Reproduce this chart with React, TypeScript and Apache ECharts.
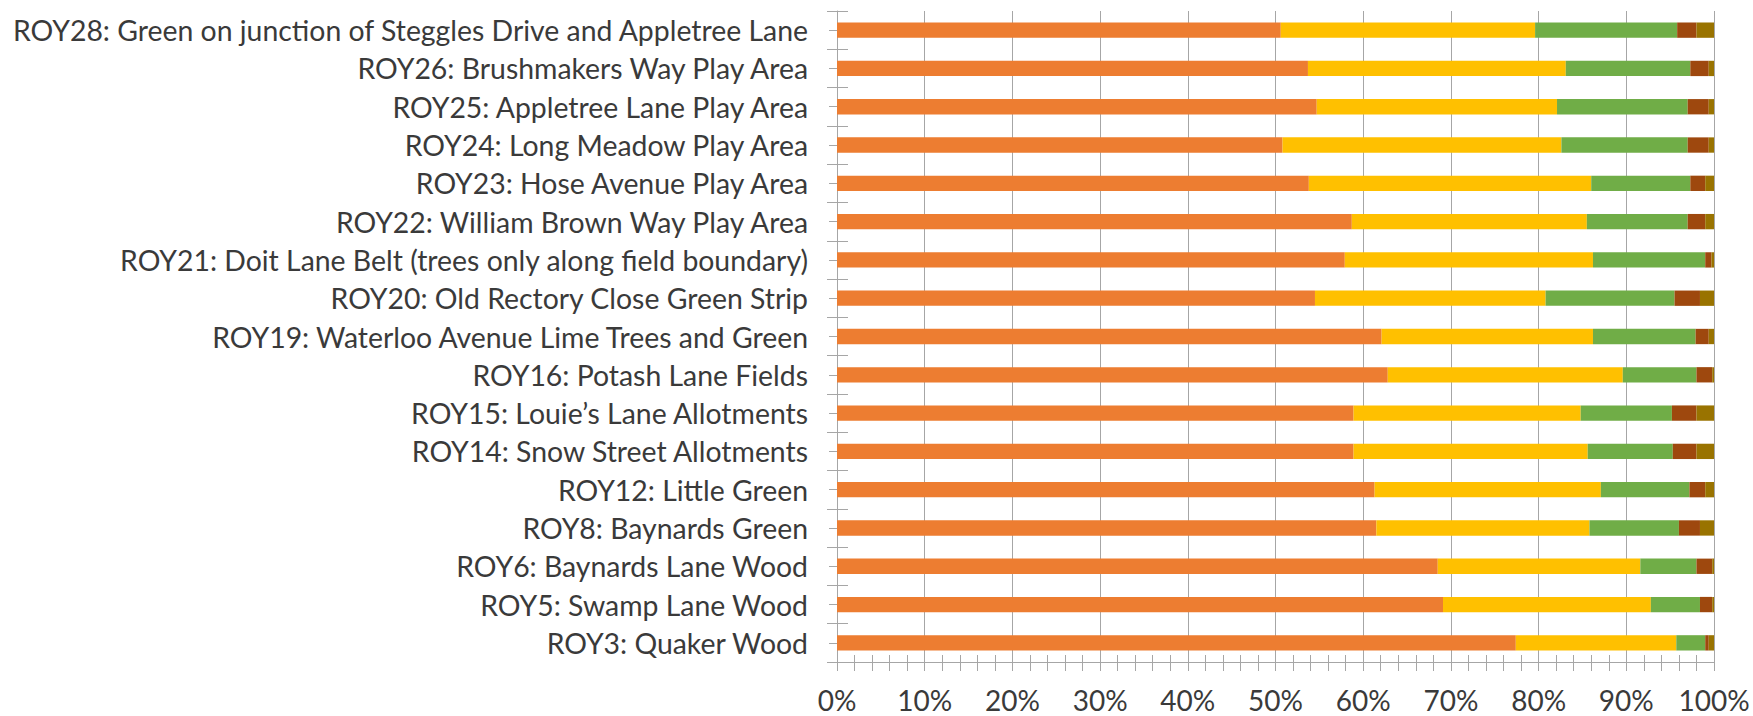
import React, { useEffect, useRef } from "react";
import * as echarts from "echarts";

const categories = [
  "ROY3: Quaker Wood",
  "ROY5: Swamp Lane Wood",
  "ROY6: Baynards Lane Wood",
  "ROY8: Baynards Green",
  "ROY12: Little Green",
  "ROY14: Snow Street Allotments",
  "ROY15: Louie\u2019s Lane Allotments",
  "ROY16: Potash Lane Fields",
  "ROY19: Waterloo Avenue Lime Trees and Green",
  "ROY20: Old Rectory Close Green Strip",
  "ROY21: Doit Lane Belt (trees only along field boundary)",
  "ROY22: William Brown Way Play Area",
  "ROY23: Hose Avenue Play Area",
  "ROY24: Long Meadow Play Area",
  "ROY25: Appletree Lane Play Area",
  "ROY26: Brushmakers Way Play Area",
  "ROY28: Green on junction of Steggles Drive and Appletree Lane",
];

// shares in percent, ordered as categories (bottom to top)
const seriesA = [77.4, 69.1, 68.5, 61.5, 61.3, 58.9, 58.9, 62.8, 62.1, 54.5, 57.9, 58.7, 53.8, 50.8, 54.7, 53.7, 50.6];
const seriesB = [18.3, 23.7, 23.1, 24.3, 25.8, 26.7, 25.9, 26.8, 24.1, 26.3, 28.3, 26.8, 32.2, 31.8, 27.4, 29.4, 29.0];
const seriesC = [3.3, 5.6, 6.4, 10.2, 10.1, 9.7, 10.4, 8.4, 11.7, 14.7, 12.8, 11.5, 11.3, 14.4, 14.9, 14.2, 16.2];
const seriesD = [0.4, 1.4, 1.8, 2.4, 1.8, 2.7, 2.8, 1.8, 1.5, 2.9, 0.7, 2.0, 1.7, 2.4, 2.4, 2.1, 2.2];
const seriesE = [0.6, 0.2, 0.2, 1.6, 1.0, 2.0, 2.0, 0.2, 0.6, 1.6, 0.3, 1.0, 1.0, 0.6, 0.6, 0.6, 2.0];

const seriesNames = ["Series 1", "Series 2", "Series 3", "Series 4", "Series 5"];
const seriesColors = ["#ED7D31", "#FFC000", "#70AD47", "#9E480E", "#997300"];
const seriesData = [seriesA, seriesB, seriesC, seriesD, seriesE];

const FONT = "Lato";
const TEXT = "#3a3a3a";
const LINE = "#A6A6A6";

export default function App() {
  const ref = useRef<HTMLDivElement>(null);
  useEffect(() => {
    if (!ref.current) return;
    const chart = echarts.init(ref.current, undefined, { renderer: "svg" });
    const yBase = {
      type: "category",
      data: categories,
      position: "left",
      gridIndex: 0,
    };
    chart.setOption({
      animation: false,
      backgroundColor: "#ffffff",
      grid: { left: 837, right: 39, top: 11, bottom: 54, containLabel: false },
      xAxis: [
        {
          type: "value",
          min: 0,
          max: 100,
          interval: 10,
          position: "bottom",
          axisLine: { show: true, lineStyle: { color: LINE, width: 1 } },
          axisTick: { show: true, length: 9, lineStyle: { color: LINE } },
          minorTick: { show: true, splitNumber: 5, length: 9, lineStyle: { color: LINE } },
          splitLine: { show: true, lineStyle: { color: LINE, width: 1 } },
          axisLabel: {
            formatter: "{value}%",
            color: TEXT,
            fontFamily: FONT,
            fontSize: 28,
            lineHeight: 28,
            margin: 24,
          },
        },
        {
          type: "value",
          min: 0,
          max: 100,
          interval: 10,
          position: "bottom",
          axisLine: { show: false },
          axisTick: { show: true, inside: true, length: 7, lineStyle: { color: LINE } },
          minorTick: { show: true, splitNumber: 5, length: 7, lineStyle: { color: LINE } },
          splitLine: { show: false },
          axisLabel: { show: false },
        },
      ],
      yAxis: [
        {
          ...yBase,
          axisLine: { show: true, lineStyle: { color: LINE, width: 1 } },
          axisTick: { show: true, length: 10, lineStyle: { color: LINE } },
          axisLabel: {
            color: TEXT,
            fontFamily: FONT,
            fontSize: 28.4,
            margin: 29,
          },
        },
        {
          ...yBase,
          axisLine: { show: false },
          axisTick: { show: true, inside: true, length: 11, lineStyle: { color: LINE } },
          axisLabel: { show: false },
        },
        {
          ...yBase,
          axisLine: { show: false },
          axisTick: { show: true, alignWithLabel: true, length: 8, lineStyle: { color: LINE } },
          axisLabel: { show: false },
        },
        {
          ...yBase,
          axisLine: { show: false },
          axisTick: { show: true, alignWithLabel: true, inside: true, length: 8, lineStyle: { color: LINE } },
          axisLabel: { show: false },
        },
      ],
      series: seriesData.map((d, i) => ({
        name: seriesNames[i],
        type: "bar",
        stack: "total",
        xAxisIndex: 0,
        yAxisIndex: 0,
        barCategoryGap: "60%",
        itemStyle: { color: seriesColors[i] },
        data: d,
      })),
    });
    return () => chart.dispose();
  }, []);
  return (
    <div
      ref={ref}
      style={{ position: "fixed", left: 0, top: 0, width: 1753, height: 716 }}
    />
  );
}
